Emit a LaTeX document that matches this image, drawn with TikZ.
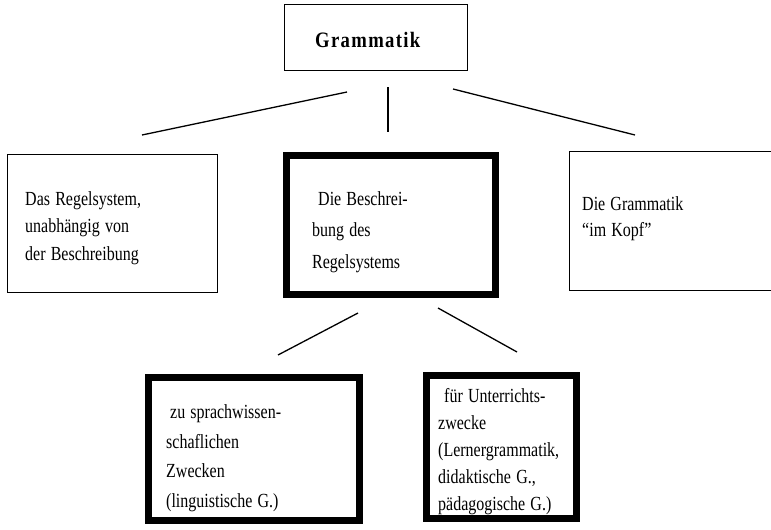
\documentclass[tikz,border=0pt]{standalone}
\usepackage{fontspec}
\setmainfont{Liberation Serif}[FakeStretch=0.8, WordSpace=1.3]
\newfontfamily\titlefont{Liberation Serif}[FakeStretch=0.85, LetterSpace=6]
\begin{document}
\begin{tikzpicture}[x=1pt,y=-1pt,
  thinbox/.style={draw, line width=1.3pt, inner sep=0pt, outer sep=0pt},
  thickbox/.style={draw, line width=7pt, inner sep=0pt, outer sep=0pt},
  conn/.style={line width=1.3pt},
  txt/.style={anchor=north west, inner sep=0pt, align=left},
]
\path[use as bounding box] (0,0) rectangle (771,530);

% boxes
\node[thinbox, minimum width=182.7pt, minimum height=65.7pt] (top) at (376,37.5) {};
\node[thinbox, minimum width=209.7pt, minimum height=137.7pt] (left) at (112.5,223.5) {};
\node[thickbox, minimum width=209pt, minimum height=139pt] (mid) at (391,225) {};
\begin{scope}
\clip (0,0) rectangle (771,530);
\node[thinbox, minimum width=229.7pt, minimum height=138.7pt] (right) at (684.5,221) {};
\end{scope}
\node[thickbox, minimum width=211pt, minimum height=143pt] (bl) at (254,449) {};
\node[thickbox, minimum width=150pt, minimum height=143pt] (br) at (501.5,447) {};

% texts
\node[anchor=base west, inner sep=0pt, font={\titlefont\bfseries\fontsize{22}{26}\selectfont}] (ttop) at (315,47) {Grammatik};
\node[txt, font={\fontsize{20}{27.5}\selectfont}] (tleft) at (25,191.3)
  {Das Regelsystem,\\unabhängig von\\der Beschreibung};
\node[txt, font={\fontsize{20}{31.5}\selectfont}] (tmid) at (312,191.3)
  {\hspace*{6pt}Die Beschrei-\\bung des\\Regelsystems};
\node[txt, font={\fontsize{20}{26}\selectfont}] (tright) at (582,196.3)
  {Die Grammatik\\“im Kopf”};
\node[txt, font={\fontsize{20}{29.7}\selectfont}] (tbl) at (166,404.3)
  {\hspace*{4pt}zu sprachwissen-\\schaflichen\\Zwecken\\(linguistische G.)};
\node[txt, font={\fontsize{20}{27}\selectfont}] (tbr) at (438,388.3)
  {\hspace*{6pt}für Unterrichts-\\zwecke\\(Lernergrammatik,\\didaktische G.,\\pädagogische G.)};

% connector ends
\coordinate (tl1) at (347,92);
\coordinate (tl2) at (142,135);
\coordinate (tm1) at (388,87);
\coordinate (tm2) at (388,132);
\coordinate (tr1) at (453,89);
\coordinate (tr2) at (635,135);
\coordinate (bl1) at (358,313);
\coordinate (bl2) at (278,355);
\coordinate (br1) at (438,308);
\coordinate (br2) at (517,352);

\draw[conn] (tl1) -- (tl2);
\draw[conn] (tm1) -- (tm2);
\draw[conn] (tr1) -- (tr2);
\draw[conn] (bl1) -- (bl2);
\draw[conn] (br1) -- (br2);
\end{tikzpicture}
\end{document}
